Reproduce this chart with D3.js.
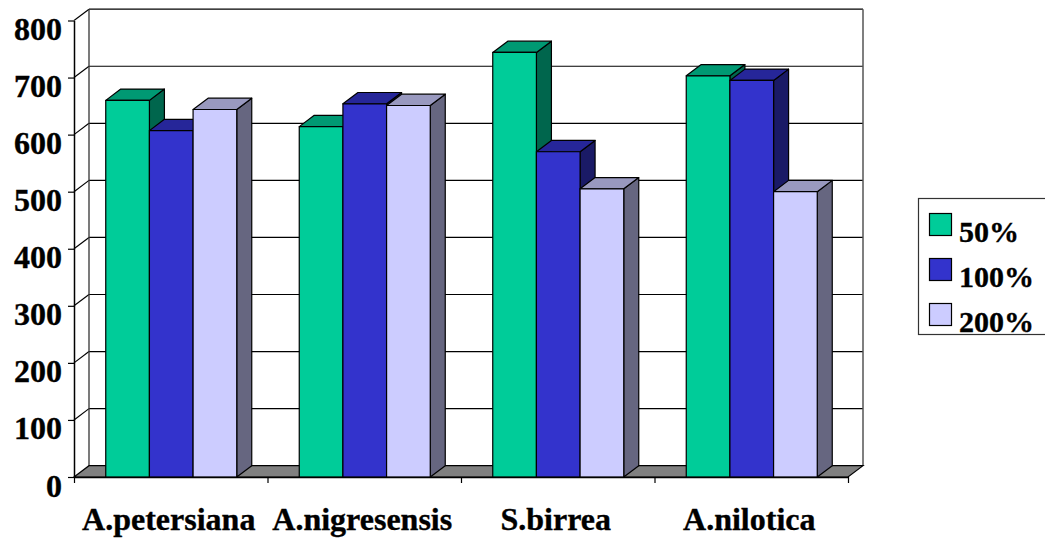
<!DOCTYPE html>
<html>
<head>
<meta charset="utf-8">
<script src="https://cdn.jsdelivr.net/npm/d3@7"></script>
<style>
  html, body { margin: 0; padding: 0; background: #fff; }
  svg { display: block; }
  text { font-family: "Liberation Serif", serif; font-weight: bold; fill: #000; stroke: #000; stroke-width: 0.35px; }
</style>
</head>
<body>
<svg id="chart" width="1045" height="540"></svg>
<script>
'use strict';

const categories = ['A.petersiana', 'A.nigresensis', 'S.birrea', 'A.nilotica'];
const seriesNames = ['50%', '100%', '200%'];
const seriesColors = ['#00cc99', '#3333cc', '#ccccff'];
const values50 = [660, 614, 744, 703];
const values100 = [607, 654, 570, 695];
const values200 = [644, 651, 505, 500];
const allValues = [values50, values100, values200];
const yTicks = [0, 100, 200, 300, 400, 500, 600, 700, 800];

// front plane of the plot and the 3d offset of the back wall
const plotLeft = 74, plotRight = 848, plotBottom = 477, plotTop = 20.5;
const depthX = 15, depthY = 11.3;

// scales
const y = d3.scaleLinear().domain([0, 800]).range([plotBottom, plotTop]);
const x0 = d3.scaleBand().domain(categories).range([plotLeft + 0.5, plotRight + 0.5]).paddingInner(0.323).paddingOuter(0.1615);
const x1 = d3.scaleBand().domain(seriesNames).range([0, x0.bandwidth()]);
const xEdges = d3.scaleLinear().domain([0, categories.length]).range([plotLeft, plotRight]);

const svg = d3.select('#chart');
const poly = (pts) => pts.map((p) => p.join(',')).join(' ');

// grid lines: back wall and left wall
const grid = svg.append('g').attr('class', 'grid');
grid.selectAll('.hline')
    .data(yTicks.slice(1))
  .enter().append('line')
    .attr('class', 'hline')
    .attr('x1', plotLeft + depthX)
    .attr('x2', plotRight + depthX)
    .attr('y1', (d) => y(d) - depthY)
    .attr('y2', (d) => y(d) - depthY)
    .style('stroke', '#000')
    .style('stroke-width', 1.2);
grid.selectAll('.diag')
    .data(yTicks.slice(1))
  .enter().append('line')
    .attr('class', 'diag')
    .attr('x1', plotLeft)
    .attr('x2', plotLeft + depthX)
    .attr('y1', (d) => y(d))
    .attr('y2', (d) => y(d) - depthY)
    .style('stroke', '#000')
    .style('stroke-width', 1.2);

// walls
grid.append('line')
    .attr('x1', plotLeft + depthX).attr('x2', plotLeft + depthX)
    .attr('y1', y(800) - depthY).attr('y2', plotBottom - depthY)
    .style('stroke', '#333').style('stroke-width', 1.3);
grid.append('line')
    .attr('x1', plotRight + depthX).attr('x2', plotRight + depthX)
    .attr('y1', y(800) - depthY).attr('y2', plotBottom - depthY)
    .style('stroke', '#555').style('stroke-width', 1.5);

// floor
svg.append('polygon')
    .attr('points', poly([[plotLeft, plotBottom], [plotLeft + depthX, plotBottom - depthY], [plotRight + depthX, plotBottom - depthY], [plotRight, plotBottom]]))
    .style('fill', '#808080')
    .style('stroke', '#000')
    .style('stroke-width', 1.2);

// bars, series by series so that later ones paint over the earlier sides
const bars = svg.append('g').attr('class', 'bars');
categories.forEach((cat, ci) => {
  seriesNames.forEach((name, si) => {
    const v = allValues[si][ci];
    const xa = x0(cat) + x1(name), xb = xa + x1.bandwidth();
    const ya = y(v);
    const base = d3.rgb(seriesColors[si]);
    const shade = (f) => d3.rgb(base.r * f, base.g * f, base.b * f).formatHex();
    const g = bars.append('g')
        .style('stroke', '#000')
        .style('stroke-width', 1.2)
        .style('stroke-linejoin', 'round');
    g.append('polygon')
        .attr('points', poly([[xb, ya], [xb + depthX, ya - depthY], [xb + depthX, plotBottom - depthY], [xb, plotBottom]]))
        .style('fill', shade(0.5));
    g.append('polygon')
        .attr('points', poly([[xa, ya], [xa + depthX, ya - depthY], [xb + depthX, ya - depthY], [xb, ya]]))
        .style('fill', shade(0.75));
    g.append('rect')
        .attr('x', xa)
        .attr('y', ya)
        .attr('width', xb - xa)
        .attr('height', plotBottom - ya)
        .style('fill', base.formatHex());
  });
});

// y-axis
const yAxis = d3.axisLeft(y).tickValues(yTicks).tickSize(6).tickPadding(6).tickSizeOuter(0);
const yg = svg.append('g')
    .attr('class', 'y axis')
    .attr('transform', `translate(${plotLeft},0)`)
    .call(yAxis);
yg.selectAll('path').style('stroke', '#000').style('stroke-width', 1.5);
yg.selectAll('line').style('stroke', '#000').style('stroke-width', 1.2);
yg.selectAll('text')
    .attr('x', -12)
    .attr('dy', '19')
    .style('font-family', '"Liberation Serif", serif')
    .style('font-size', '32px')
    .style('font-weight', 'bold');

// x-axis, ticks sit on the category edges
const xAxis = d3.axisBottom(xEdges).ticks(categories.length).tickSize(6).tickSizeOuter(0).tickFormat('');
const xg = svg.append('g')
    .attr('class', 'x axis')
    .attr('transform', `translate(0,${plotBottom})`)
    .call(xAxis);
xg.selectAll('path').style('stroke', '#000').style('stroke-width', 1.5);
xg.selectAll('line').style('stroke', '#000').style('stroke-width', 1.2);

svg.append('g').selectAll('text')
    .data(categories)
  .enter().append('text')
    .attr('x', (d) => x0(d) + x0.bandwidth() / 2 - 2.5)
    .attr('y', 530)
    .style('text-anchor', 'middle')
    .style('font-size', '32px')
    .text((d) => d);

// legend
const legend = svg.append('g').attr('class', 'legend');
legend.append('rect')
    .attr('x', 918.5).attr('y', 198.5)
    .attr('width', 140).attr('height', 136)
    .style('fill', '#fff')
    .style('stroke', '#333')
    .style('stroke-width', 1.2);
const rows = legend.selectAll('.row')
    .data(seriesNames)
  .enter().append('g')
    .attr('class', 'row')
    .attr('transform', (d, i) => `translate(0,${i * 45})`);
rows.append('rect')
    .attr('x', 929.5).attr('y', 213.5)
    .attr('width', 22).attr('height', 22)
    .style('fill', (d, i) => seriesColors[i])
    .style('stroke', '#000')
    .style('stroke-width', 1.2);
rows.append('text')
    .attr('x', 959)
    .attr('y', 241.5)
    .style('font-size', '30px')
    .text((d) => d);
</script>
</body>
</html>
